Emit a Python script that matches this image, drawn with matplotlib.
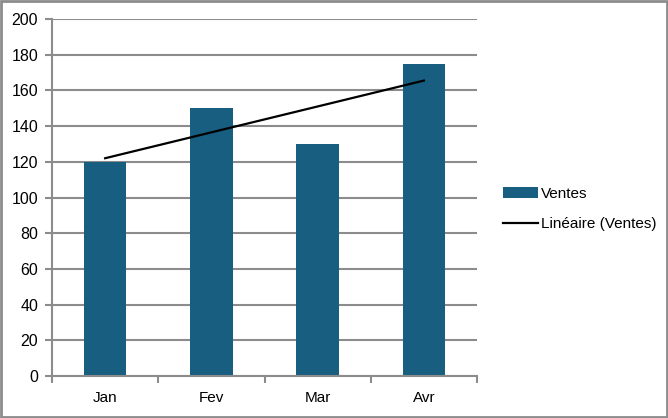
import numpy as np
import matplotlib.pyplot as plt
from matplotlib.patches import Rectangle

plt.rcParams['font.family'] = ['Liberation Sans', 'DejaVu Sans']

mois = ['Jan', 'Fev', 'Mar', 'Avr']
ventes = [120, 150, 130, 175]
yticks = [0, 20, 40, 60, 80, 100, 120, 140, 160, 180, 200]

bar_color = '#175e80'
grid_color = '#8c8c8c'

fig = plt.figure(figsize=(6.68, 4.18), dpi=100)
ax = fig.add_axes([52 / 668, 1 - 376 / 418, 425 / 668, 357 / 418])

x = np.arange(len(mois))
barres = ax.bar(x, ventes, width=0.4, color=bar_color, label='Ventes', zorder=2)

# courbe de tendance linéaire
pente, orig = np.polyfit(x, ventes, 1)
tendance, = ax.plot(x, pente * x + orig, color='black', lw=1.6, label='Linéaire (Ventes)', zorder=3)

ax.set_xlim(-0.5, len(mois) - 0.5)
ax.set_ylim(0, 200)
ax.set_yticks(yticks)
ax.set_xticks(x)
ax.set_xticklabels(mois)
ax.set_xticks(np.arange(-0.5, len(mois)), minor=True)
ax.tick_params(axis='x', which='major', length=0, pad=11, labelsize=11)
ax.tick_params(axis='x', which='minor', length=5, width=1.5, color=grid_color)
ax.tick_params(axis='y', length=5, width=1.5, color=grid_color, labelsize=11.5, pad=5)
ax.yaxis.grid(True, color=grid_color, lw=1.5, zorder=0)
ax.set_axisbelow(True)
for s in ['top', 'right']:
    ax.spines[s].set_visible(False)
for s in ['left', 'bottom']:
    ax.spines[s].set_color(grid_color)
    ax.spines[s].set_linewidth(1.5)
    ax.spines[s].set_zorder(4)

fig.legend([barres, tendance], ['Ventes', 'Linéaire (Ventes)'], loc='center left',
           bbox_to_anchor=(489 / 668, 1 - 209 / 418), frameon=False,
           fontsize=11, handlelength=2.3, handletextpad=0.2, labelspacing=1.1)

fig.patches.append(Rectangle((0.0015, 0.0025), 0.997, 0.995, transform=fig.transFigure,
                             fill=False, edgecolor=grid_color, lw=2))

fig.savefig('out.png', dpi=100)
